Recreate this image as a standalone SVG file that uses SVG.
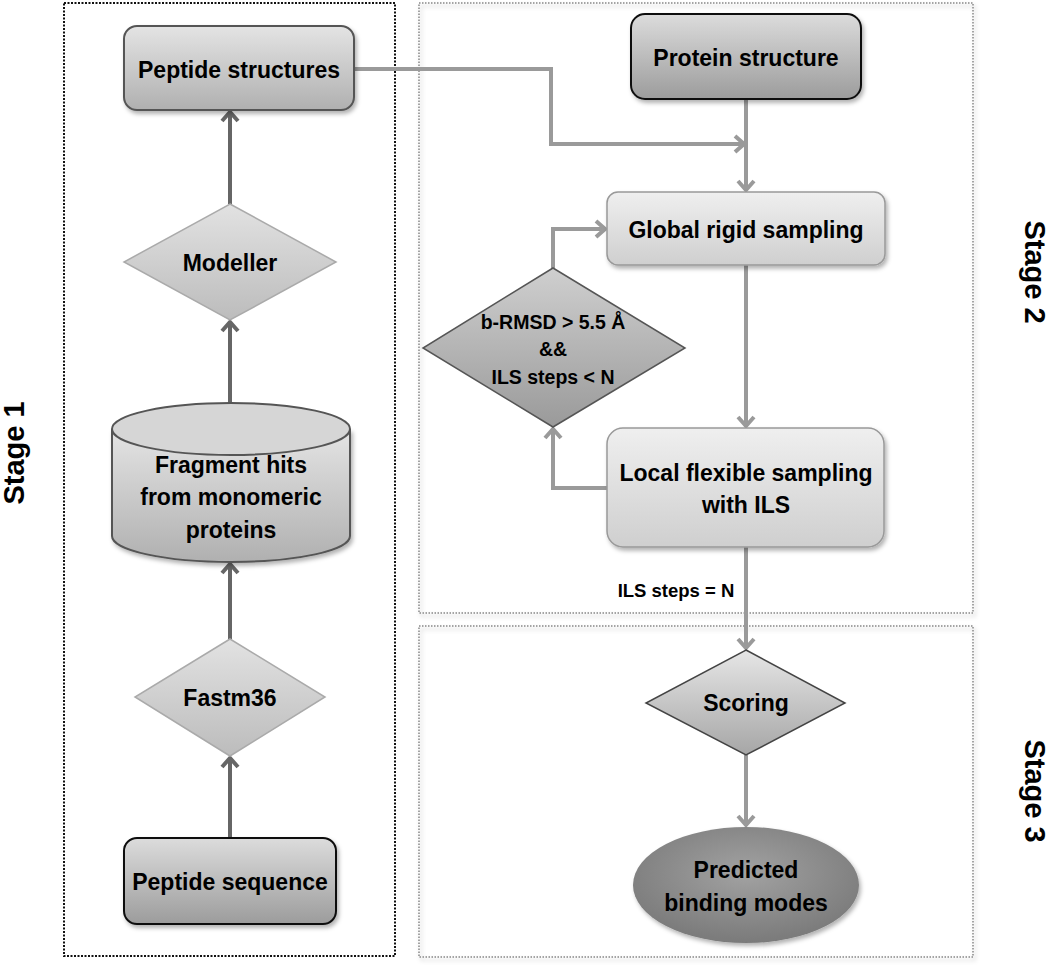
<svg xmlns="http://www.w3.org/2000/svg" width="1050" height="967" viewBox="0 0 1050 967">
<defs>
<linearGradient id="gLight" x1="0" y1="0" x2="0" y2="1"><stop offset="0" stop-color="#efefef"/><stop offset="1" stop-color="#cfcfcf"/></linearGradient>
<linearGradient id="gMid" x1="0" y1="0" x2="0" y2="1"><stop offset="0" stop-color="#e4e4e4"/><stop offset="1" stop-color="#b0b0b0"/></linearGradient>
<linearGradient id="gDark" x1="0" y1="0" x2="0" y2="1"><stop offset="0" stop-color="#dcdcdc"/><stop offset="1" stop-color="#9c9c9c"/></linearGradient>
<linearGradient id="gDia" x1="0" y1="0" x2="0" y2="1"><stop offset="0" stop-color="#e2e2e2"/><stop offset="1" stop-color="#bcbcbc"/></linearGradient>
<linearGradient id="gDiaDark" x1="0" y1="0" x2="0" y2="1"><stop offset="0" stop-color="#cfcfcf"/><stop offset="1" stop-color="#9a9a9a"/></linearGradient>
<linearGradient id="gScore" x1="0" y1="0" x2="0" y2="1"><stop offset="0" stop-color="#e6e6e6"/><stop offset="1" stop-color="#a6a6a6"/></linearGradient>
<radialGradient id="gEll" cx="0.5" cy="0.4" r="0.6"><stop offset="0" stop-color="#a2a2a2"/><stop offset="1" stop-color="#7a7a7a"/></radialGradient>
<filter id="sh" x="-10%" y="-10%" width="125%" height="130%"><feDropShadow dx="2" dy="3" stdDeviation="2" flood-color="#000" flood-opacity="0.3"/></filter>
<marker id="aD" viewBox="-12 -10 14 20" refX="0" refY="0" markerWidth="14" markerHeight="20" markerUnits="userSpaceOnUse" orient="auto"><path d="M-9,-8 L0,0 L-9,8" fill="none" stroke="#666" stroke-width="4"/></marker>
<marker id="aL" viewBox="-12 -10 14 20" refX="0" refY="0" markerWidth="14" markerHeight="20" markerUnits="userSpaceOnUse" orient="auto"><path d="M-9,-8 L0,0 L-9,8" fill="none" stroke="#9a9a9a" stroke-width="4"/></marker>
<style>
text{font-family:"Liberation Sans",Arial,sans-serif;font-weight:bold;fill:#000;text-anchor:middle}
.t{font-size:23px}
.s{font-size:19.5px}
.stage{font-size:29px}
.cd{fill:none;stroke:#666;stroke-width:4;marker-end:url(#aD)}
.cl{fill:none;stroke:#9a9a9a;stroke-width:4;marker-end:url(#aL)}
</style>
</defs>
<rect width="1050" height="967" fill="#fff"/>

<g id="stages">
<rect x="64" y="3" width="331" height="953" fill="none" stroke="#111" stroke-width="2" stroke-dasharray="2 1.5"/>
<rect x="419" y="3" width="554" height="610" fill="none" stroke="#888" stroke-width="1.5" stroke-dasharray="1.5 1.5" filter="url(#sh)"/>
<rect x="419" y="626" width="554" height="331" fill="none" stroke="#888" stroke-width="1.5" stroke-dasharray="1.5 1.5" filter="url(#sh)"/>
<text class="stage" x="24" y="453" transform="rotate(-90 24 453)">Stage 1</text>
<text class="stage" x="1025" y="272" transform="rotate(90 1025 272)">Stage 2</text>
<text class="stage" x="1025" y="791" transform="rotate(90 1025 791)">Stage 3</text>
</g>

<g id="connectors">
<line class="cd" x1="230" y1="838" x2="230" y2="758"/>
<line class="cd" x1="230" y1="639" x2="230" y2="564"/>
<line class="cd" x1="230" y1="403" x2="230" y2="322"/>
<line class="cd" x1="230" y1="204" x2="230" y2="112"/>
<polyline class="cl" points="354,69 551,69 551,144 744,144"/>
<line class="cl" x1="746" y1="99" x2="746" y2="190"/>
<line class="cl" x1="746" y1="265" x2="746" y2="426"/>
<polyline class="cl" points="607,488 553,488 553,429"/>
<polyline class="cl" points="553,268 553,229 605,229"/>
<line class="cl" x1="746" y1="547" x2="746" y2="648"/>
<line class="cl" x1="746" y1="755" x2="746" y2="825"/>
<text x="676" y="597" style="font-size:18.5px">ILS steps = N</text>
</g>

<g id="peptide-structures">
<rect x="124" y="26" width="230" height="84" rx="13" fill="url(#gMid)" stroke="#555" stroke-width="2" filter="url(#sh)"/>
<text class="t" x="239" y="78">Peptide structures</text>
</g>

<g id="modeller">
<polygon points="230,204 336,262 230,320 124,262" fill="url(#gDia)" stroke="#aaa" stroke-width="1.5"/>
<text class="t" x="230" y="271">Modeller</text>
</g>

<g id="fragment-hits">
<path d="M112,429 L112,536 A119,26 0 0 0 350,536 L350,429" fill="url(#gMid)" stroke="#555" stroke-width="2" filter="url(#sh)"/>
<ellipse cx="231" cy="429" rx="119" ry="26" fill="#d6d6d6" stroke="#555" stroke-width="2"/>
<text class="t" x="231" y="473">Fragment hits</text>
<text class="t" x="231" y="505">from monomeric</text>
<text class="t" x="231" y="538">proteins</text>
</g>

<g id="fastm36">
<polygon points="230,639 325,697 230,756 135,697" fill="url(#gDia)" stroke="#aaa" stroke-width="1.5"/>
<text class="t" x="230" y="706">Fastm36</text>
</g>

<g id="peptide-sequence">
<rect x="124" y="838" width="212" height="86" rx="13" fill="url(#gDark)" stroke="#111" stroke-width="2" filter="url(#sh)"/>
<text class="t" x="230" y="890">Peptide sequence</text>
</g>

<g id="protein-structure">
<rect x="631" y="14" width="230" height="85" rx="14" fill="url(#gDark)" stroke="#111" stroke-width="2" filter="url(#sh)"/>
<text class="t" x="746" y="66">Protein structure</text>
</g>

<g id="global-rigid">
<rect x="607" y="192" width="278" height="73" rx="11" fill="url(#gLight)" stroke="#999" stroke-width="1.5" filter="url(#sh)"/>
<text class="t" x="746" y="238">Global rigid sampling</text>
</g>

<g id="brmsd">
<polygon points="553,268 685,348 553,427 423,348" fill="url(#gDiaDark)" stroke="#555" stroke-width="1.5"/>
<text class="s" x="553" y="329">b-RMSD &gt; 5.5 Å</text>
<text class="s" x="553" y="356">&amp;&amp;</text>
<text class="s" x="553" y="384">ILS steps &lt; N</text>
</g>

<g id="local-flexible">
<rect x="607" y="428" width="277" height="119" rx="16" fill="url(#gLight)" stroke="#999" stroke-width="1.5" filter="url(#sh)"/>
<text class="t" x="746" y="481">Local flexible sampling</text>
<text class="t" x="746" y="513">with ILS</text>
</g>

<g id="scoring">
<polygon points="746,650 845,703 746,755 646,703" fill="url(#gScore)" stroke="#444" stroke-width="1.5"/>
<text class="t" x="746" y="711">Scoring</text>
</g>

<g id="predicted">
<ellipse cx="746" cy="885" rx="113" ry="58" fill="url(#gEll)" filter="url(#sh)"/>
<text class="t" x="746" y="878">Predicted</text>
<text class="t" x="746" y="911">binding modes</text>
</g>
</svg>
